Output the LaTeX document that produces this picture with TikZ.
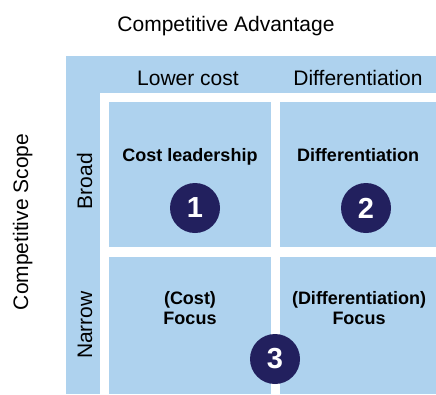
\documentclass[tikz,border=0pt]{standalone}
\usepackage{fontspec}
\setmainfont{Liberation Sans}
\definecolor{lightblue}{HTML}{AED2EE}
\definecolor{navy}{HTML}{22205E}
\begin{document}
\begin{tikzpicture}[x=1pt,y=-1pt,
  lab/.style={font=\fontsize{21}{25}\selectfont, text=black, inner sep=0pt, anchor=base},
  celltxt/.style={font=\fontsize{18}{19.5}\selectfont\bfseries, inner sep=0pt, align=center, anchor=base},
  cellbox/.style={fill=lightblue, draw=none},
  num/.style={circle, fill=navy, minimum size=50pt, inner sep=0pt, text=white, font=\fontsize{29}{30}\selectfont\bfseries}]
\useasboundingbox (0,0) rectangle (436,394);
\fill[white] (0,0) rectangle (436,394);
% outer blue panel
\fill[lightblue] (66,56) rectangle (436,394);
% white frame
\fill[white] (100,93) rectangle (436,394);
% cells
\fill[cellbox] (109,102) rectangle (271,247);
\fill[cellbox] (280,102) rectangle (436,247);
\fill[cellbox] (109,257) rectangle (271,394);
\fill[cellbox] (280,257) rectangle (436,394);
% axis titles
\node[lab] (adv) at (226,31) {Competitive Advantage};
\node[lab, rotate=90] (scope) at (28,222) {Competitive Scope};
% column headers
\node[lab] (lower) at (188,85) {Lower cost};
\node[lab] (diffh) at (358,85) {Differentiation};
% row headers
\node[lab, rotate=90] (broad) at (92,181) {Broad};
\node[lab, rotate=90] (narrow) at (92,325) {Narrow};
% cell texts
\node[celltxt] (costlead) at (190,161) {Cost leadership};
\node[celltxt] (diff) at (358,161) {Differentiation};
\node[celltxt] (costfocus) at (190,324) {(Cost)\\Focus};
\node[celltxt] (difffocus) at (359,324) {(Differentiation)\\Focus};
% numbers
\node[num] (n1) at (195,208) {1};
\node[num] (n2) at (366,208) {2};
\node[num] (n3) at (275,359) {3};
\end{tikzpicture}
\end{document}
